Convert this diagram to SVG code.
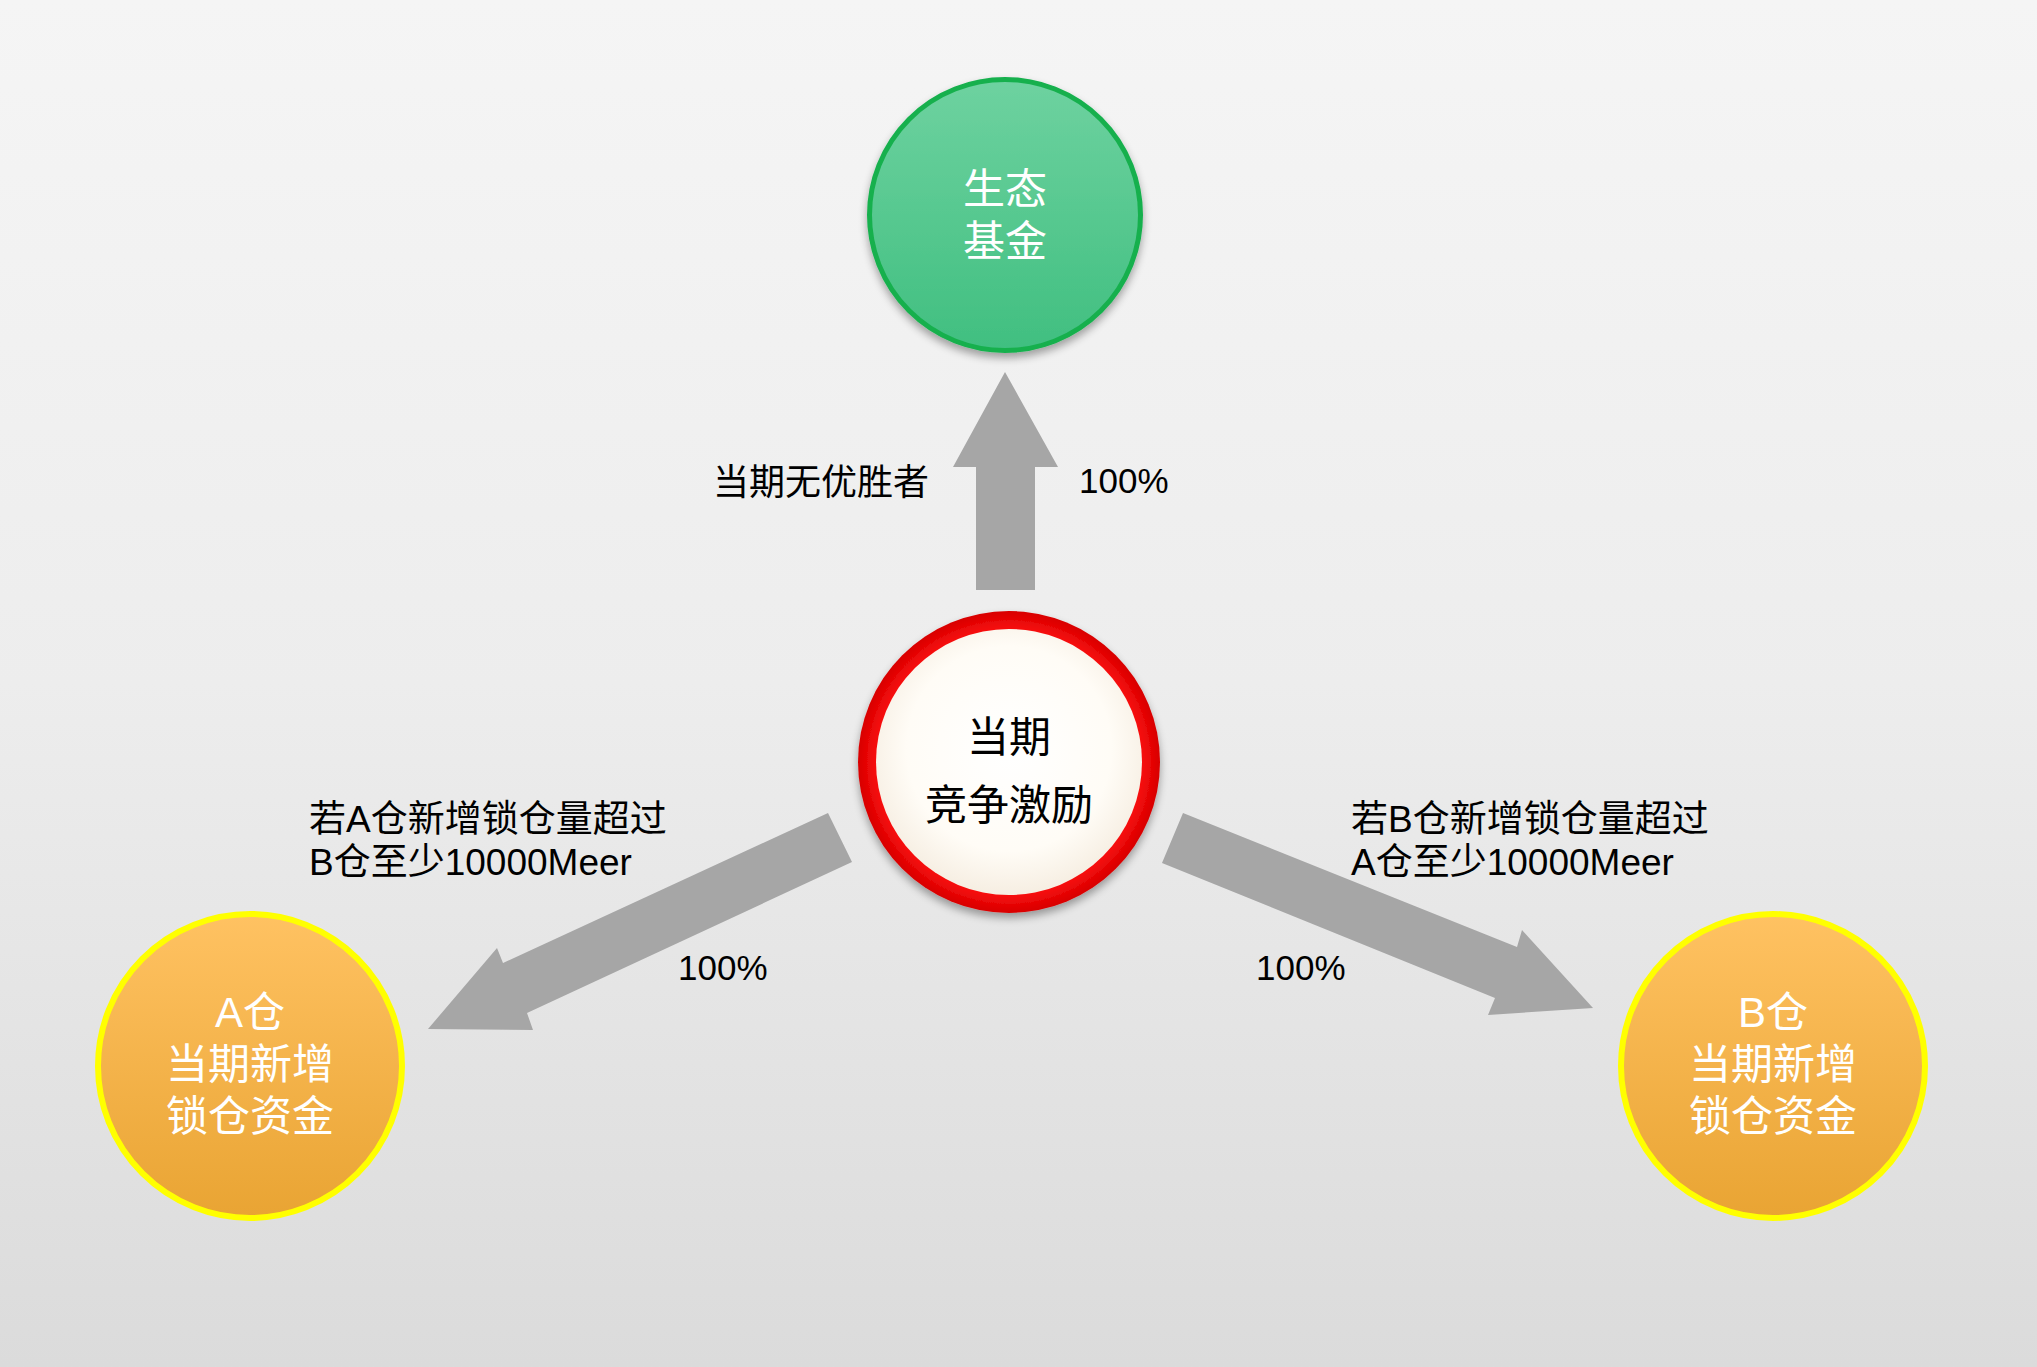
<svg xmlns="http://www.w3.org/2000/svg" width="2037" height="1367" viewBox="0 0 2037 1367">
<defs>
<linearGradient id="bg" x1="0" y1="0" x2="0" y2="1">
<stop offset="0" stop-color="#F5F5F5"/>
<stop offset="0.5" stop-color="#EDEDED"/>
<stop offset="1" stop-color="#DBDBDB"/>
</linearGradient>
<linearGradient id="gGreen" x1="0" y1="0" x2="0" y2="1">
<stop offset="0" stop-color="#6ED2A0"/>
<stop offset="1" stop-color="#40BF80"/>
</linearGradient>
<linearGradient id="gOrange" x1="0" y1="0" x2="0" y2="1">
<stop offset="0" stop-color="#FFC262"/>
<stop offset="1" stop-color="#E9A433"/>
</linearGradient>
<radialGradient id="gRed" cx="0.5" cy="0.5" r="0.5">
<stop offset="0.85" stop-color="#FF1010"/>
<stop offset="1" stop-color="#D80000"/>
</radialGradient>
<radialGradient id="gCream" cx="0.5" cy="0.45" r="0.55">
<stop offset="0" stop-color="#FFFFFF"/>
<stop offset="0.7" stop-color="#FFFCF6"/>
<stop offset="1" stop-color="#F6EEE2"/>
</radialGradient>
<filter id="sh" x="-20%" y="-20%" width="140%" height="150%">
<feGaussianBlur in="SourceAlpha" stdDeviation="4"/>
<feOffset dy="5"/>
<feComponentTransfer><feFuncA type="linear" slope="0.35"/></feComponentTransfer>
<feMerge><feMergeNode/><feMergeNode in="SourceGraphic"/></feMerge>
</filter>
</defs>
<style>
.arrow{fill:#A6A6A6;}
.lbl{font-family:"Liberation Sans","Noto Sans CJK SC",sans-serif;fill:#000;}
.wt{font-family:"Liberation Sans","Noto Sans CJK SC",sans-serif;fill:#FFFFFF;font-size:42px;text-anchor:middle;}
.bt{font-family:"Liberation Sans","Noto Sans CJK SC",sans-serif;fill:#000;font-size:42px;text-anchor:middle;}
</style>
<rect x="0" y="0" width="2037" height="1367" fill="url(#bg)"/>

<g id="connectors">
<polygon class="arrow" points="976,590 976,467 953,467 1005,372 1058,467 1035,467 1035,590"/>
<polygon class="arrow" points="828,813 503,963 497,948 428,1029 533,1030 527,1013 852,862"/>
<polygon class="arrow" points="1183,813 1517,947 1522,930 1593,1008 1488,1015 1495,998 1162,863"/>
</g>

<g id="labels">
<text class="lbl" x="713" y="495" font-size="36">当期无优胜者</text>
<text class="lbl" x="1079" y="493" font-size="35">100%</text>
<text class="lbl" x="309" y="832" font-size="37">若A仓新增锁仓量超过</text>
<text class="lbl" x="309" y="875" font-size="37">B仓至少10000Meer</text>
<text class="lbl" x="1351" y="832" font-size="37">若B仓新增锁仓量超过</text>
<text class="lbl" x="1351" y="875" font-size="37">A仓至少10000Meer</text>
<text class="lbl" x="678" y="980" font-size="35">100%</text>
<text class="lbl" x="1256" y="980" font-size="35">100%</text>
</g>

<g id="node-eco">
<circle cx="1005" cy="215" r="135.5" fill="url(#gGreen)" stroke="#17B04E" stroke-width="5" filter="url(#sh)"/>
<text class="wt" x="1005" y="204">生态</text>
<text class="wt" x="1005" y="256">基金</text>
</g>

<g id="node-center">
<circle cx="1009" cy="762" r="151" fill="url(#gRed)" filter="url(#sh)"/>
<circle cx="1009" cy="762" r="133" fill="url(#gCream)"/>
<text class="bt" x="1009" y="752">当期</text>
<text class="bt" x="1009" y="820">竞争激励</text>
</g>

<g id="node-a">
<circle cx="250" cy="1066" r="152" fill="url(#gOrange)" stroke="#FFFF00" stroke-width="6"/>
<text class="wt" x="250" y="1027">A仓</text>
<text class="wt" x="250" y="1079">当期新增</text>
<text class="wt" x="250" y="1131">锁仓资金</text>
</g>

<g id="node-b">
<circle cx="1773" cy="1066" r="152" fill="url(#gOrange)" stroke="#FFFF00" stroke-width="6"/>
<text class="wt" x="1773" y="1027">B仓</text>
<text class="wt" x="1773" y="1079">当期新增</text>
<text class="wt" x="1773" y="1131">锁仓资金</text>
</g>
</svg>
